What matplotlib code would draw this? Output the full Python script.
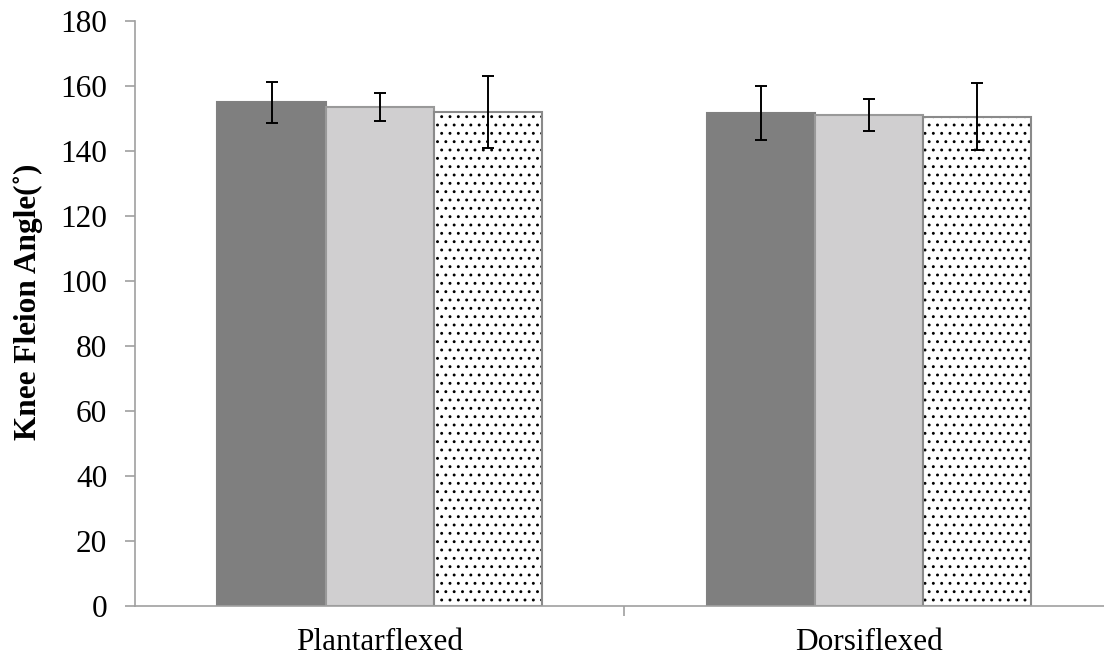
import numpy as np
import matplotlib as mpl
mpl.use('Agg')
import matplotlib.pyplot as plt

categories = ['Plantarflexed', 'Dorsiflexed']
series_means = [
    [155.0, 151.7],   # dark grey
    [153.4, 151.1],   # light grey
    [152.1, 150.6],   # dotted
]
series_errs = [
    [6.3, 8.3],
    [4.3, 5.0],
    [11.1, 10.4],
]
y_ticks = [0, 20, 40, 60, 80, 100, 120, 140, 160, 180]

plt.rcParams['font.family'] = ['Liberation Serif', 'DejaVu Serif']
plt.rcParams['hatch.linewidth'] = 0.9

fig = plt.figure(figsize=(11.04, 6.59), dpi=100)
ax = fig.add_axes([135 / 1104, 53 / 659, 1 - 135 / 1104, 585 / 659])

x = np.arange(len(categories))
width = 0.221
offsets = [-width, 0, width]
faces = ['#7f7f7f', '#d0cfd0', 'white']
edges = ['#808080', '#999999', '#8a8a8a']
hatches = [None, None, '..']

for means, errs, off, fc, ec, h in zip(series_means, series_errs, offsets, faces, edges, hatches):
    if h:
        # hatch takes the edge colour, so draw the dots in black first
        ax.bar(x + off, means, width, color=fc, edgecolor='black', linewidth=0,
               hatch=h, zorder=2)
        ax.bar(x + off, means, width, fill=False, edgecolor=ec, linewidth=1.5, zorder=2)
    else:
        ax.bar(x + off, means, width, color=fc, edgecolor=ec, linewidth=1.5, zorder=2)
    ax.errorbar(x + off, means, yerr=errs, fmt='none', ecolor='black',
                elinewidth=1.4, capsize=4.5, capthick=1.4, zorder=3)

ax.set_xlim(-0.5, 1.48)
ax.set_ylim(0, 180)
ax.set_yticks(y_ticks)
ax.set_xticks([0.5], minor=True)
ax.set_xticks(x)
ax.set_xticklabels(categories)

for s in ['top', 'right']:
    ax.spines[s].set_visible(False)
for s in ['left', 'bottom']:
    ax.spines[s].set_color('#a0a0a0')
    ax.spines[s].set_linewidth(1.2)

ax.tick_params(axis='y', direction='out', length=7, width=1.2, color='#a0a0a0',
               labelsize=22.5, pad=13)
ax.tick_params(axis='x', which='major', length=0, labelsize=22.5, pad=16)
ax.tick_params(axis='x', which='minor', direction='out', length=7, width=1.2,
               color='#a0a0a0')

ax.set_ylabel('Knee Fleion Angle(˚)', fontsize=22.5, fontweight='bold')
ax.yaxis.set_label_coords(-0.095, 0.52)

plt.savefig('out.png', dpi=100)
print('Saved: "out.png"')
